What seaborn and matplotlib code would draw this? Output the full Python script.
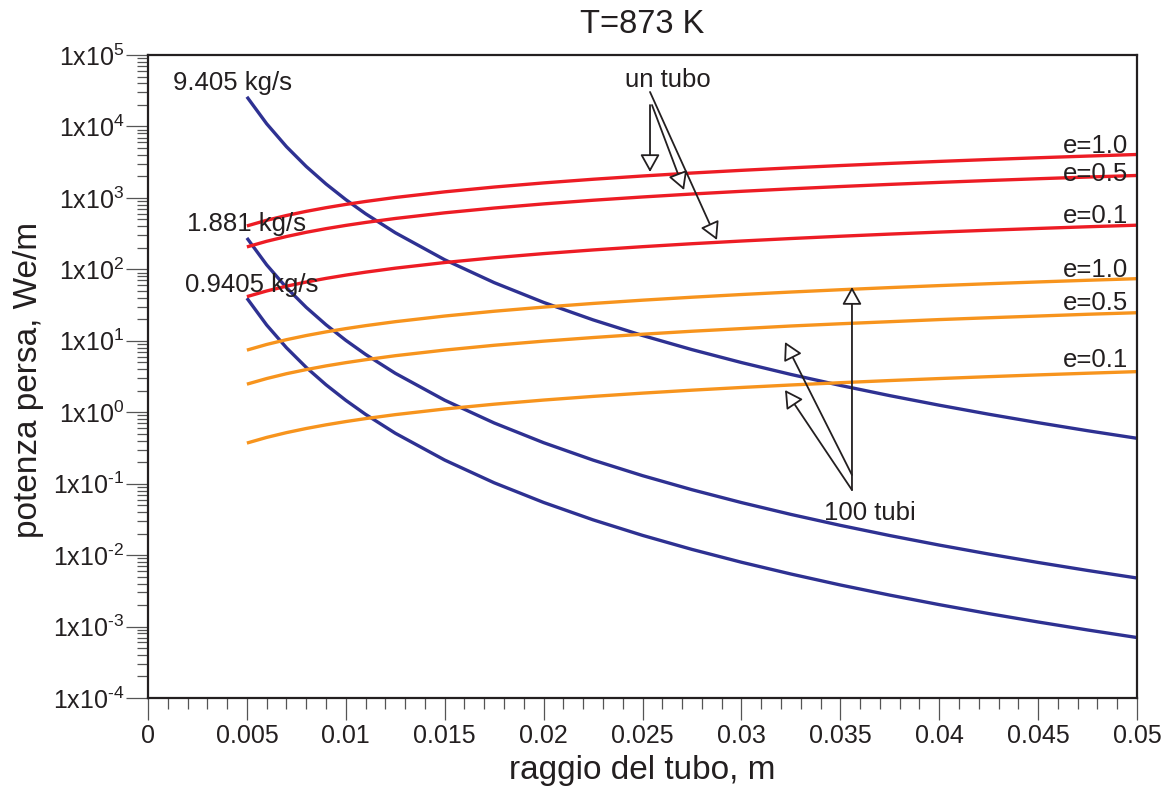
import matplotlib
matplotlib.use("Agg")
import matplotlib.pyplot as plt
from matplotlib.ticker import FixedLocator, MultipleLocator, LogLocator, NullFormatter
import pandas as pd
import seaborn as sns

# Tube radius, m
radius = [0.005, 0.006, 0.007, 0.008, 0.009, 0.010, 0.011, 0.0125,
          0.015, 0.0175, 0.020, 0.0225, 0.025, 0.0275, 0.030, 0.0325,
          0.035, 0.0375, 0.040, 0.0425, 0.045, 0.0475, 0.050]

# Pumping power lost, We/m, for three mass flow rates
flow_9405 = [26000, 10900, 5210, 2750, 1566, 946, 600, 325.6,
             136.2, 65.2, 34.45, 19.62, 11.86, 7.52, 4.96, 3.382,
             2.374, 1.707, 1.254, 0.938, 0.714, 0.551, 0.4315]
flow_1881 = [275, 115.5, 55.4, 29.35, 16.76, 10.15, 6.45, 3.51,
             1.473, 0.7075, 0.3745, 0.2138, 0.1295, 0.0823, 0.0544, 0.03714,
             0.0261, 0.01879, 0.01382, 0.01036, 0.00789, 0.0061, 0.00478]
flow_09405 = [39.5, 16.61, 7.99, 4.237, 2.422, 1.468, 0.9335, 0.5085,
              0.214, 0.1029, 0.0546, 0.03118, 0.0189, 0.01202, 0.00795, 0.00544,
              0.00382, 0.002755, 0.002027, 0.00152, 0.001159, 0.000896, 0.000702]

# Heat lost by a single tube, We/m, for three emissivities
one_e10 = [405, 486, 567, 648, 729, 810, 891, 1013,
           1215, 1418, 1620, 1823, 2025, 2228, 2430, 2633,
           2835, 3038, 3240, 3443, 3645, 3848, 4050]
one_e05 = [206, 247, 288, 330, 371, 412, 453, 515,
           618, 721, 824, 927, 1030, 1133, 1236, 1339,
           1442, 1545, 1648, 1751, 1854, 1957, 2060]
one_e01 = [41.5, 49.8, 58.1, 66.4, 74.7, 83.0, 91.3, 103.8,
           124.5, 145.3, 166, 186.8, 207.5, 228.3, 249, 269.8,
           290.5, 311.3, 332, 352.8, 373.5, 394.3, 415]

# Heat lost per tube in a bundle of 100 tubes, We/m
hundred_e10 = [7.4, 8.88, 10.36, 11.84, 13.32, 14.8, 16.28, 18.5,
               22.2, 25.9, 29.6, 33.3, 37.0, 40.7, 44.4, 48.1,
               51.8, 55.5, 59.2, 62.9, 66.6, 70.3, 74.0]
hundred_e05 = [2.47, 2.96, 3.46, 3.95, 4.45, 4.94, 5.43, 6.18,
               7.41, 8.65, 9.88, 11.1, 12.35, 13.6, 14.8, 16.1,
               17.3, 18.5, 19.8, 21.0, 22.2, 23.5, 24.7]
hundred_e01 = [0.37, 0.444, 0.518, 0.592, 0.666, 0.74, 0.814, 0.925,
               1.11, 1.295, 1.48, 1.665, 1.85, 2.035, 2.22, 2.405,
               2.59, 2.775, 2.96, 3.145, 3.33, 3.515, 3.70]

x_ticks = [0, 0.005, 0.01, 0.015, 0.02, 0.025, 0.03, 0.035, 0.04, 0.045, 0.05]
x_ticklabels = ["0", "0.005", "0.01", "0.015", "0.02", "0.025", "0.03",
                "0.035", "0.04", "0.045", "0.05"]
y_exponents = [-4, -3, -2, -1, 0, 1, 2, 3, 4, 5]

BLUE = "#2e3192"
RED = "#ed1c24"
ORANGE = "#f7941d"
INK = "#231f20"

series = {
    "9.405 kg/s": (flow_9405, BLUE),
    "1.881 kg/s": (flow_1881, BLUE),
    "0.9405 kg/s": (flow_09405, BLUE),
    "un tubo e=1.0": (one_e10, RED),
    "un tubo e=0.5": (one_e05, RED),
    "un tubo e=0.1": (one_e01, RED),
    "100 tubi e=1.0": (hundred_e10, ORANGE),
    "100 tubi e=0.5": (hundred_e05, ORANGE),
    "100 tubi e=0.1": (hundred_e01, ORANGE),
}

rows = []
for name, (vals, _) in series.items():
    for r, p in zip(radius, vals):
        rows.append({"raggio": r, "potenza": p, "serie": name})
df = pd.DataFrame(rows)
palette = {name: col for name, (_, col) in series.items()}

sns.set_style("ticks")
plt.rcParams["font.family"] = ["Liberation Sans", "DejaVu Sans"]
plt.rcParams["mathtext.fontset"] = "custom"
plt.rcParams["mathtext.rm"] = "Liberation Sans"
plt.rcParams["mathtext.it"] = "Liberation Sans:italic"
plt.rcParams["mathtext.bf"] = "Liberation Sans:bold"
plt.rcParams["text.color"] = INK
plt.rcParams["axes.labelcolor"] = INK

fig = plt.figure(figsize=(11.75, 7.88), dpi=100)
ax = fig.add_axes([148 / 1175, 1 - 698 / 788, 989 / 1175, 643 / 788])

sns.lineplot(data=df, x="raggio", y="potenza", hue="serie",
             hue_order=list(series.keys()), palette=palette,
             estimator=None, sort=False, linewidth=2.4, legend=False, ax=ax,
             solid_joinstyle="round", solid_capstyle="butt")

ax.set_yscale("log")
ax.set_xlim(0, 0.05)
ax.set_ylim(1e-4, 1e5)

# x axis ticks
ax.xaxis.set_major_locator(FixedLocator(x_ticks))
ax.set_xticklabels(x_ticklabels)
ax.xaxis.set_minor_locator(MultipleLocator(0.001))

# y axis ticks, labelled 1x10^n
def decade_label(e):
    return r"1x10$^{\mathregular{%s}}$" % str(e).replace("-", "\u2010")

ax.yaxis.set_major_locator(FixedLocator([10.0 ** e for e in y_exponents]))
ax.set_yticklabels([decade_label(e) for e in y_exponents])
ax.yaxis.set_minor_locator(LogLocator(base=10, subs=range(2, 10), numticks=100))
ax.yaxis.set_minor_formatter(NullFormatter())

ax.tick_params(axis="both", which="major", direction="out", length=16,
               width=0.9, color="#555555", labelsize=18, labelcolor=INK)
ax.tick_params(axis="both", which="minor", direction="out", length=8,
               width=0.9, color="#555555")
ax.tick_params(axis="x", which="major", pad=3)
ax.tick_params(axis="y", which="major", pad=1)

for sp in ax.spines.values():
    sp.set_visible(True)
    sp.set_color(INK)
    sp.set_linewidth(1.6)

ax.set_xlabel("raggio del tubo, m", fontsize=24)
ax.set_ylabel("potenza persa, We/m", fontsize=24)
ax.xaxis.set_label_coords(0.5, -0.088)
ax.yaxis.set_label_coords(-0.105, 0.495)
ax.set_title("T=873 K", fontsize=23.5, pad=16, color=INK)

# Curve labels
txt = dict(transform=ax.transAxes, fontsize=18.5, color=INK, va="baseline")
ax.text(0.0859, 0.9456, "9.405 kg/s", ha="center", **txt)
ax.text(0.1001, 0.7263, "1.881 kg/s", ha="center", **txt)
ax.text(0.1052, 0.6314, "0.9405 kg/s", ha="center", **txt)
for y, lab in [(0.8476, "e=1.0"), (0.8040, "e=0.5"), (0.7387, "e=0.1"),
               (0.6547, "e=1.0"), (0.6034, "e=0.5"), (0.5148, "e=0.1")]:
    ax.text(0.9909, y, lab, ha="right", **txt)

ax.text(0.5258, 0.9502, "un tubo", ha="center", **txt)
ax.text(0.7300, 0.2768, "100 tubi", ha="center", **txt)

arrow = dict(arrowstyle="-|>,head_length=0.9,head_width=0.5",
             mutation_scale=12, fc="white", ec=INK, lw=1.3,
             shrinkA=0, shrinkB=0)
for start, tip in [((0.5076, 0.9222), (0.5076, 0.8180)),
                   ((0.5096, 0.9222), (0.5420, 0.7900)),
                   ((0.5076, 0.9425), (0.5753, 0.7123)),
                   ((0.7118, 0.3235), (0.7118, 0.6392)),
                   ((0.7118, 0.3468), (0.6441, 0.5537)),
                   ((0.7118, 0.3235), (0.6441, 0.4790))]:
    ax.annotate("", xy=tip, xytext=start, xycoords="axes fraction",
                textcoords="axes fraction", arrowprops=arrow)

fig.savefig("out.png", dpi=100)
